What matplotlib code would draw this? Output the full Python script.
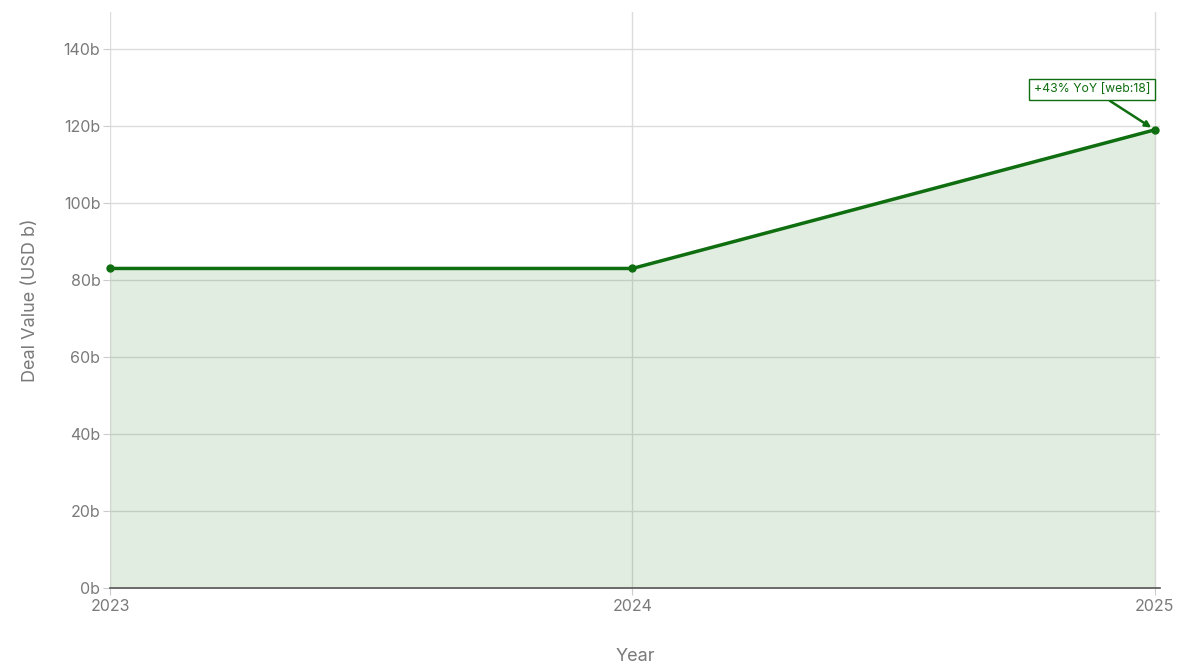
import matplotlib.pyplot as plt

plt.rcParams['font.family'] = ['Inter', 'DejaVu Sans']

years = [2023, 2024, 2025]
deal_value = [83, 83, 119]
y_ticks = [0, 20, 40, 60, 80, 100, 120, 140]
y_tick_labels = ['0b', '20b', '40b', '60b', '80b', '100b', '120b', '140b']
note_text = '+43% YoY [web:18]'

green = '#0f6e0f'
grey_text = '#7a7a7a'

fig = plt.figure(figsize=(12, 6.66), dpi=100)
ax = fig.add_axes([0.0917, 0.117, 0.875, 0.865])

# grid first, then a see-through fill so the grid shows through it
ax.grid(True, color='#dcdcdc', linewidth=1, zorder=0)
ax.set_axisbelow(True)
ax.fill_between(years, deal_value, 0, color=green, alpha=0.12, linewidth=0, zorder=1)
ax.plot(years, deal_value, color=green, linewidth=2.5, marker='o', markersize=5,
        zorder=3, clip_on=False)

ax.set_xlim(2023, 2025.01)
ax.set_ylim(0, 149.6)
ax.set_xticks(years)
ax.set_xticklabels([str(y) for y in years])
ax.set_yticks(y_ticks)
ax.set_yticklabels(y_tick_labels)

for side in ['top', 'right', 'left']:
    ax.spines[side].set_visible(False)
ax.spines['bottom'].set_color('#555555')
ax.spines['bottom'].set_linewidth(1.2)

ax.tick_params(axis='both', colors='#cccccc', labelcolor=grey_text, labelsize=11.5, length=5)
ax.tick_params(axis='x', pad=3)
ax.tick_params(axis='y', pad=2)

ax.set_xlabel('Year', color=grey_text, fontsize=13, labelpad=24)
ax.set_ylabel('Deal Value (USD b)', color=grey_text, fontsize=13, labelpad=18)

ax.annotate(note_text, xy=(years[2], deal_value[2]), xytext=(2024.88, 129.5),
            ha='center', va='center', fontsize=8.8, color=green,
            bbox=dict(boxstyle='square,pad=0.4', fc='white', ec=green, lw=1),
            arrowprops=dict(arrowstyle='-|>', color=green, lw=1.8, shrinkA=0, shrinkB=3),
            zorder=5)

fig.savefig('out.png', dpi=100)
